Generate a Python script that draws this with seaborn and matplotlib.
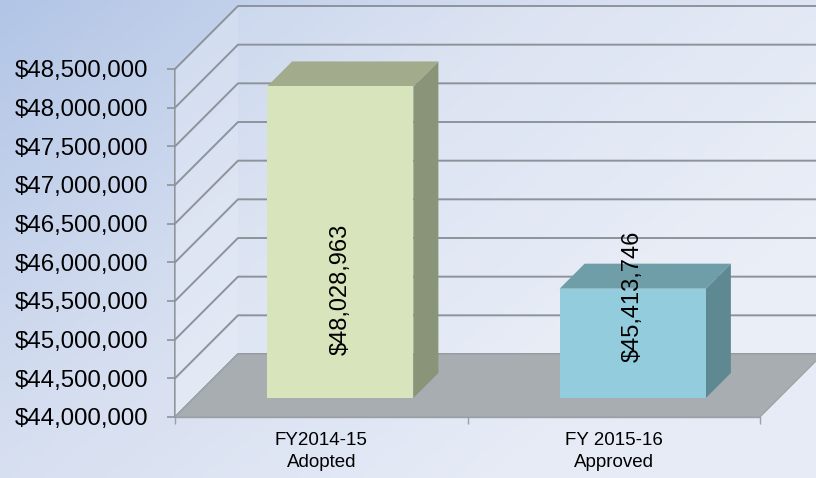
import numpy as np
import pandas as pd
import matplotlib
matplotlib.use("Agg")
import matplotlib.pyplot as plt
import seaborn as sns
from matplotlib.patches import Polygon
from matplotlib.text import Text
from matplotlib.transforms import ScaledTranslation, IdentityTransform
from matplotlib.colors import LinearSegmentedColormap
from matplotlib.ticker import FuncFormatter

# ---- data ----
categories = ["FY2014-15\nAdopted", "FY 2015-16\nApproved"]
values = [48028963, 45413746]
value_labels = ["$48,028,963", "$45,413,746"]
label_pos = [45410000, 45320000]
y_ticks = [44000000, 44500000, 45000000, 45500000, 46000000,
           46500000, 47000000, 47500000, 48000000, 48500000]

front_colors = ["#d8e4bc", "#93cddd"]
side_colors = ["#8a9479", "#5e8993"]
top_colors = ["#a2ac8c", "#6f9ea8"]

sns.set_theme(style="white")
plt.rcParams["font.family"] = ["Liberation Sans", "DejaVu Sans"]
plt.rcParams["text.color"] = "black"
plt.rcParams["xtick.color"] = "black"
plt.rcParams["ytick.color"] = "black"

W, H, DPI = 816, 478, 100
fig = plt.figure(figsize=(W / DPI, H / DPI), dpi=DPI)

# ---- background gradient ----
bg = fig.add_axes([0, 0, 1, 1], zorder=-10)
xx, yy = np.meshgrid(np.linspace(0, 1, 300), np.linspace(0, 1, 200))
t = np.clip(0.75 * xx + 0.55 * yy, 0, 1)
cmap_bg = LinearSegmentedColormap.from_list("bg", ["#b2c5e6", "#d5def0", "#e6ebf6"])
bg.imshow(t, cmap=cmap_bg, aspect="auto", extent=[0, 1, 0, 1], origin="upper")
bg.set_axis_off()

# ---- main axes (front plane) ----
left_px, right_px, bottom_px, top_px = 175, 760, 417, 69
ax = fig.add_axes([left_px / W, (H - bottom_px) / H,
                   (right_px - left_px) / W, (bottom_px - top_px) / H])
ax.patch.set_alpha(0)
base = y_ticks[0]
ymax = y_ticks[-1]

df = pd.DataFrame({"cat": categories, "val": values})
sns.barplot(data=df, x="cat", y="val", hue="cat", palette=front_colors,
            width=0.5, legend=False, ax=ax, saturation=1, linewidth=0)
ax.set_xlim(-0.5, 1.5)
ax.set_ylim(base, ymax)

fig.canvas.draw()

DEPTH_WALL = 63
D_FRONT, D_BACK = 19, 44


def disp(pts, d):
    p = ax.transData.transform(np.asarray(pts, dtype=float))
    return p + np.array([d, d])


def add_poly(pts, color, z, **kw):
    poly = Polygon(pts, closed=True, facecolor=color, transform=IdentityTransform(),
                   zorder=z, clip_on=False, **kw)
    fig.add_artist(poly)
    return poly


x0, x1 = ax.get_xlim()
x_far = x1 + 0.5  # back wall extends beyond figure edge

# back wall
back = disp([(x0, base), (x_far, base), (x_far, ymax), (x0, ymax)], DEPTH_WALL)
add_poly(back, (1, 1, 1, 0.18), 1, edgecolor="none")
# side wall
side = np.vstack([disp([(x0, base), (x0, ymax)], 0), disp([(x0, ymax), (x0, base)], DEPTH_WALL)])
add_poly(side, (1, 1, 1, 0.28), 1, edgecolor="none")

# gridlines
grid_col = "#8c939b"
for yt in y_ticks:
    a = disp([(x0, yt)], 0)[0]
    b = disp([(x0, yt)], DEPTH_WALL)[0]
    c = disp([(x_far, yt)], DEPTH_WALL)[0]
    fig.add_artist(plt.Line2D([a[0], b[0], c[0]], [a[1], b[1], c[1]], color=grid_col,
                              lw=1.4, transform=IdentityTransform(), zorder=2))

# floor
floor = np.vstack([disp([(x0, base), (x1, base)], 0), disp([(x1, base), (x0, base)], DEPTH_WALL)])
add_poly(floor, "#a8adb2", 3, edgecolor="#9aa0a6", linewidth=0.8)

# ---- 3D bars ----
front_tr = ax.transData + ScaledTranslation(D_FRONT / DPI, D_FRONT / DPI, fig.dpi_scale_trans)
for patch, val, cs, ct, lab, lp in zip(list(ax.patches), values, side_colors, top_colors,
                                        value_labels, label_pos):
    bx = patch.get_x()
    bw = patch.get_width()
    patch.set_y(base)
    patch.set_height(val - base)
    patch.remove()
    patch.set_transform(front_tr)
    patch.set_clip_on(False)
    patch.set_zorder(6)
    fig.add_artist(patch)
    # side face
    sf = np.vstack([disp([(bx + bw, base), (bx + bw, val)], D_FRONT),
                    disp([(bx + bw, val), (bx + bw, base)], D_BACK)])
    add_poly(sf, cs, 5, edgecolor="none")
    # top face
    tf = np.vstack([disp([(bx, val), (bx + bw, val)], D_FRONT),
                    disp([(bx + bw, val), (bx, val)], D_BACK)])
    add_poly(tf, ct, 5, edgecolor="none")
    # value label
    txt = Text(bx + bw / 2, lp, lab, rotation=90, ha="center", va="center",
               fontsize=17, color="black", family=["Liberation Sans", "DejaVu Sans"])
    txt.set_transform(front_tr)
    txt.set_zorder(10)
    txt.set_clip_on(False)
    fig.add_artist(txt)

# ---- axes styling ----
for s in ["top", "right"]:
    ax.spines[s].set_visible(False)
ax.spines["left"].set_color("#8c939b")
ax.spines["bottom"].set_color("#9aa0a6")
ax.spines["left"].set_linewidth(1.4)
ax.spines["bottom"].set_linewidth(1.0)
ax.set_yticks(y_ticks)
ax.yaxis.set_major_formatter(FuncFormatter(lambda v, p: "${:,.0f}".format(v)))
ax.tick_params(axis="y", direction="out", length=6, width=1.2, color="#8c939b",
               labelsize=17.3, pad=13, left=True, labelcolor="black")
ax.set_xticks([-0.5, 0.5, 1.5], minor=False)
ax.set_xticklabels(["", "", ""])
ax.set_xticks([0, 1], minor=True)
ax.set_xticklabels(categories, minor=True, fontsize=13.5, linespacing=1.35)
ax.tick_params(axis="x", which="major", direction="out", length=5, width=1.0, color="#9aa0a6", bottom=True)
ax.tick_params(axis="x", which="minor", length=0, pad=11, labelcolor="black")
ax.set_xlabel("")
ax.set_ylabel("")
ax.grid(False)

fig.savefig("out.png", dpi=DPI)
